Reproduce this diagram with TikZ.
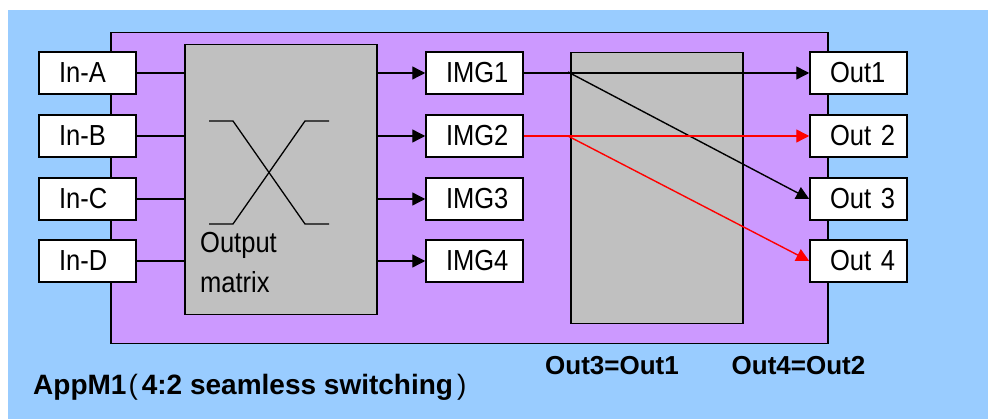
\documentclass[tikz,border=0pt]{standalone}
\usepackage{fontspec}
\setmainfont{Liberation Sans}
\newfontfamily\bx{Liberation Sans}[FakeStretch=0.88]
\usetikzlibrary{arrows.meta}
\definecolor{bgblue}{HTML}{99CCFF}
\definecolor{lilac}{HTML}{CC99FF}
\definecolor{grayfill}{HTML}{C0C0C0}
\tikzset{
  iobox/.style={draw=black, line width=1.5pt, fill=white, minimum height=42pt,
    text width=57pt, inner xsep=20pt, inner ysep=0pt, align=left,
    font=\bx\fontsize{29}{29}\selectfont},
  block/.style={draw=black, line width=1.5pt, fill=grayfill, inner sep=0pt},
  conn/.style={line width=1.4pt},
  arr/.style={conn, -{Triangle[length=13pt,width=13pt]}},
  redarr/.style={arr, draw=red, color=red},
  bottomtxt/.style={font=\bfseries\fontsize{26}{26}\selectfont, anchor=base, inner sep=0pt},
}
\begin{document}
\begin{tikzpicture}[x=1pt,y=-1pt]
\useasboundingbox (0,0) rectangle (988,419);
\fill[bgblue] (8,10) rectangle (988,419);
\node[draw=black, line width=1.5pt, fill=lilac, inner sep=0pt, minimum width=717pt, minimum height=311pt, anchor=north west] (app) at (110,32) {};
% matrix block
\node[block, minimum width=192pt, minimum height=270pt, anchor=north west] (mat) at (184,44) {};
\draw[line width=1.3pt] (209,121) -- (233,121) -- (305,224) -- (329,224);
\draw[line width=1.3pt] (209,224) -- (233,224) -- (305,121) -- (329,121);
\node[anchor=base west, inner sep=0pt, font=\bx\fontsize{29}{29}\selectfont] (otxt) at (200,253) {Output};
\node[anchor=base west, inner sep=0pt, font=\bx\fontsize{29}{29}\selectfont] (mtxt) at (200,293) {matrix};
% switch block
\node[block, minimum width=172pt, minimum height=271pt, anchor=north west] (sw) at (570,52) {};
% inputs
\node[iobox] (ina) at (87.5,73) {\mbox{In-A}};
\node[iobox] (inb) at (87.5,136) {\mbox{In-B}};
\node[iobox] (inc) at (87.5,199) {\mbox{In-C}};
\node[iobox] (ind) at (87.5,261) {\mbox{In-D}};
% images
\node[iobox] (img1) at (474.5,73) {\mbox{IMG1}};
\node[iobox] (img2) at (474.5,136) {\mbox{IMG2}};
\node[iobox] (img3) at (474.5,199) {\mbox{IMG3}};
\node[iobox] (img4) at (474.5,261) {\mbox{IMG4}};
% outputs
\node[iobox] (out1) at (858.5,73) {\mbox{Out1}};
\node[iobox] (out2) at (858.5,136) {\mbox{Out 2}};
\node[iobox] (out3) at (858.5,199) {\mbox{Out 3}};
\node[iobox] (out4) at (858.5,261) {\mbox{Out 4}};
% input connectors
\foreach \n in {ina,inb,inc,ind} \draw[conn] (\n.east) -- (\n.east -| mat.west);
\foreach \n in {img1,img2,img3,img4} \draw[arr] (\n.west -| mat.east) -- (\n.west);
% switching
\coordinate (b1) at (568,72);
\coordinate (b2) at (568,136);
\draw[arr] (img1.east) -- (out1.west);
\draw[arr] (b1) -- (out3.west);
\draw[redarr] (img2.east) -- (out2.west);
\draw[redarr] (b2) -- (out4.west);
% captions
\node[bottomtxt] (c1) at (612,375) {Out3=Out1};
\node[bottomtxt] (c2) at (798.5,375) {Out4=Out2};
\node[anchor=base west, inner sep=0pt, font=\bfseries\fontsize{28}{28}\selectfont] (title) at (33,395) {AppM1\kern2pt{\mdseries(}\kern4pt 4:2 seamless switching\kern4pt{\mdseries)}};
\end{tikzpicture}
\end{document}
